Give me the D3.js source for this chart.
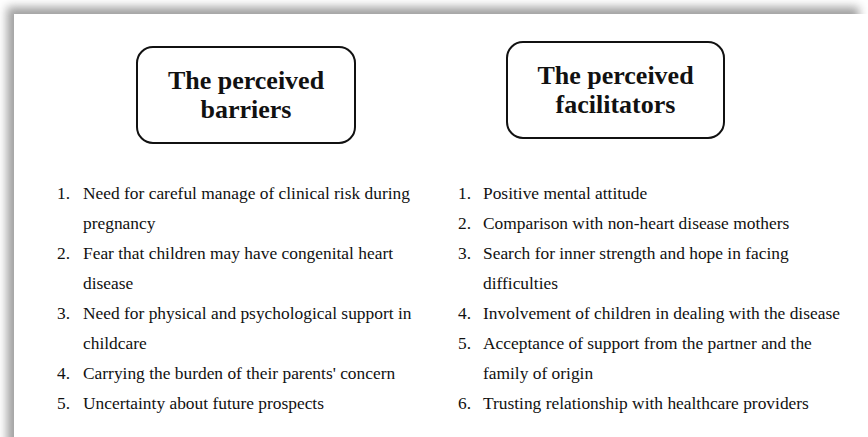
<!DOCTYPE html>
<html>
<head>
	<meta charset="utf-8">
	<title>Perceived barriers and facilitators</title>
	<script src="https://d3js.org/d3.v7.min.js"></script>
	<style>
		html, body { margin: 0; background: #fff; overflow: hidden; }
		svg { display: block; }
	</style>
</head>
<body>
	<div class="chart"></div>

	<script type="text/javascript">
		// box titles
		const titles = [
			['The perceived', 'barriers'],
			['The perceived', 'facilitators']
		]

		// list items, wrapped as in the figure
		const barriers = [
			['Need for careful manage of clinical risk during', 'pregnancy'],
			['Fear that children may have congenital heart', 'disease'],
			['Need for physical and psychological support in', 'childcare'],
			['Carrying the burden of their parents\' concern'],
			['Uncertainty about future prospects']
		]

		const facilitators = [
			['Positive mental attitude'],
			['Comparison with non-heart disease mothers'],
			['Search for inner strength and hope in facing', 'difficulties'],
			['Involvement of children in dealing with the disease'],
			['Acceptance of support from the partner and the', 'family of origin'],
			['Trusting relationship with healthcare providers']
		]

		var width = 868
		var height = 437

		var svg = d3
			.select('.chart')
			.append('svg')
			.attr('width', width)
			.attr('height', height)

		// page shadow
		var defs = svg.append('defs')
		defs.append('filter')
			.attr('id', 'blur')
			.attr('x', '-10%').attr('y', '-10%')
			.attr('width', '120%').attr('height', '120%')
			.append('feGaussianBlur')
			.attr('stdDeviation', 5)

		svg.append('rect')
			.attr('x', 7).attr('y', 7)
			.attr('width', 852).attr('height', 460)
			.attr('fill', '#a0a0a0')
			.attr('filter', 'url(#blur)')

		svg.append('rect')
			.attr('x', 14).attr('y', 14)
			.attr('width', 870).attr('height', 440)
			.attr('fill', '#fff')

		// two columns
		const columns = [
			{ box: [137, 47, 218, 96], numX: 57, textX: 83, items: barriers },
			{ box: [507, 42, 217, 96], numX: 458, textX: 483, items: facilitators }
		]

		// line index -> baseline
		const y = d3.scaleLinear().domain([0, 7]).range([199, 409])

		const font = 'Liberation Serif, Times New Roman, serif'

		columns.forEach((col, ci) => {
			const g = svg.append('g')
			const [bx, by, bw, bh] = col.box

			g.append('rect')
				.attr('x', bx).attr('y', by)
				.attr('width', bw).attr('height', bh)
				.attr('rx', 16)
				.attr('fill', '#fff')
				.attr('stroke', '#111')
				.attr('stroke-width', 2)

			g.append('g')
				.selectAll('text')
				.data(titles[ci])
				.join('text')
				.attr('x', bx + bw / 2)
				.attr('y', (d, i) => by + 42 + i * 29)
				.attr('text-anchor', 'middle')
				.style('font-family', font)
				.attr('font-weight', 'bold')
				.attr('font-size', 26)
				.attr('fill', '#111')
				.text((d) => d)

			// flatten items into lines
			let lines = []
			col.items.forEach((item, i) => {
				item.forEach((t, j) => lines.push({ num: j === 0 ? (i + 1) + '.' : '', text: t }))
			})

			const rows = g.append('g')
				.selectAll('g')
				.data(lines)
				.join('g')
				.attr('transform', (d, i) => `translate(0, ${y(i)})`)
				.style('font-family', font)
				.attr('font-size', 17.4)
				.attr('fill', '#111')

			rows.append('text')
				.attr('x', col.numX)
				.text((d) => d.num)

			rows.append('text')
				.attr('x', col.textX)
				.text((d) => d.text)
		})
	</script>
</body>
</html>
